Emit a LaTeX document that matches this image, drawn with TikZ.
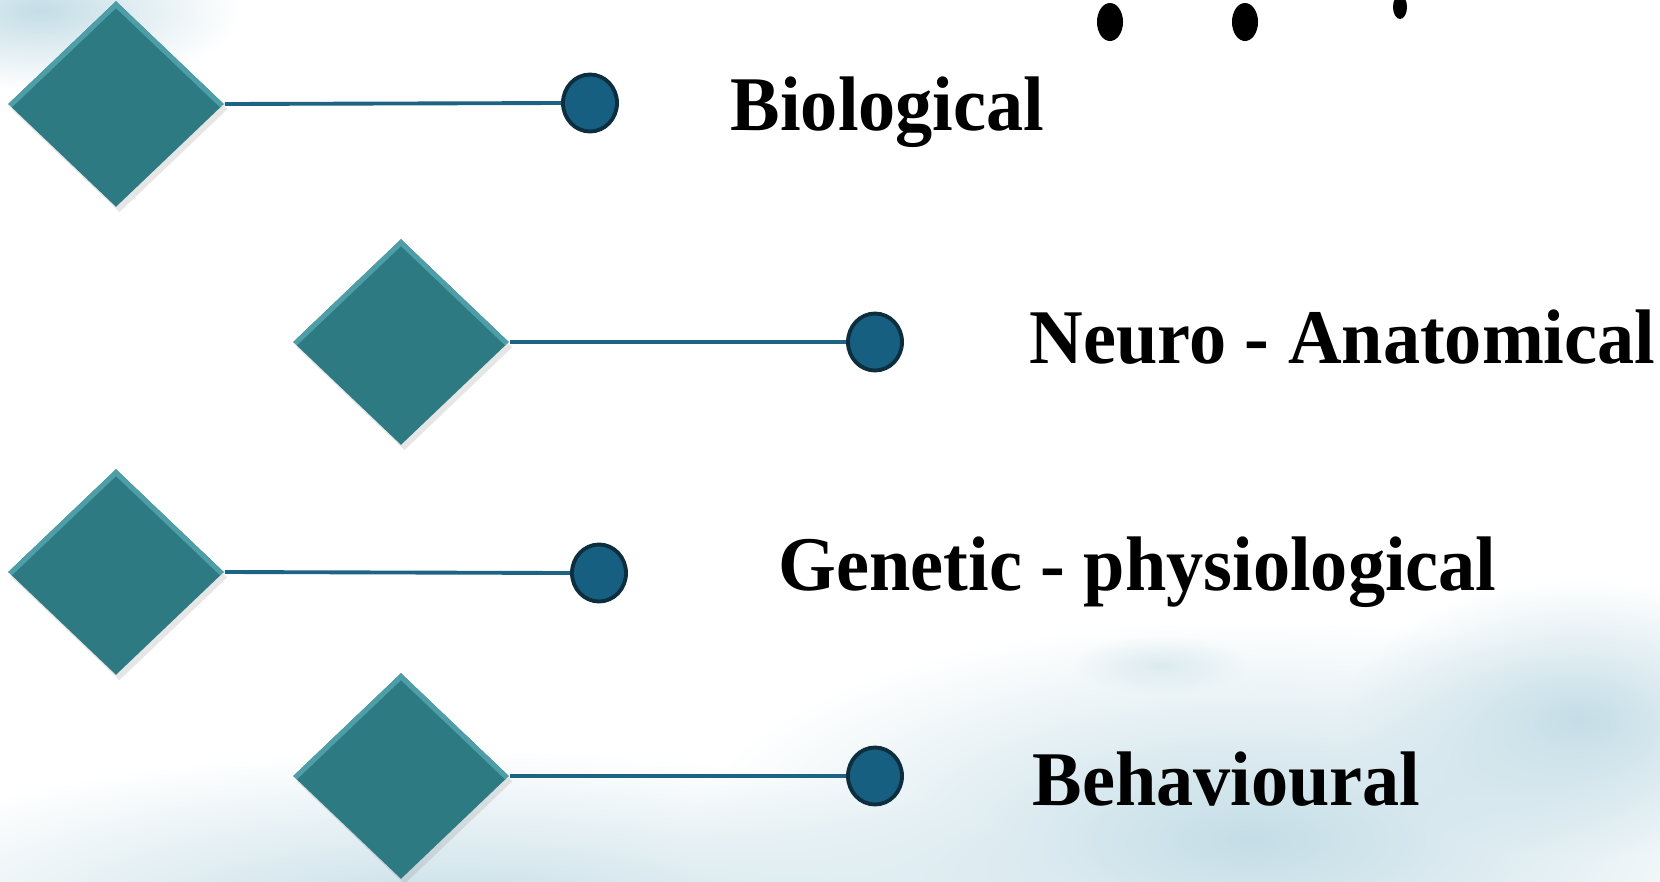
\documentclass[tikz,border=0pt]{standalone}
\usepackage{fontspec}
\newfontfamily\rowfont[FakeStretch=0.96]{Liberation Serif}
\usetikzlibrary{shapes.geometric, shadows, fadings}

\definecolor{gemteal}{HTML}{2E7A83}
\definecolor{gemlight}{HTML}{4E9EA8}
\definecolor{linkblue}{HTML}{1C6384}
\definecolor{dotfill}{HTML}{175F80}
\definecolor{dotedge}{HTML}{0C2E3F}
\definecolor{washblue}{HTML}{C4DDE6}

\tikzfading[name=softedge, inner color=transparent!0, outer color=transparent!100]

\begin{document}
\begin{tikzpicture}[
  x=0.01cm, y=-0.01cm,
  gem/.style={shape=diamond, fill=gemteal, minimum width=2.16cm, minimum height=2.06cm, inner sep=0pt,
    drop shadow={shadow xshift=1pt, shadow yshift=-1.5pt, opacity=0.2},
    path picture={\draw[gemlight, line width=0.1cm, line join=round]
      (path picture bounding box.west) -- (path picture bounding box.north) -- (path picture bounding box.east);}},
  dot/.style={ellipse, draw=dotedge, line width=1.1pt, fill=dotfill, minimum width=0.54cm, minimum height=0.57cm, inner sep=0pt},
  link/.style={draw=linkblue, line width=1.1pt},
  tag/.style={anchor=base west, inner sep=0pt, font=\rowfont\bfseries\fontsize{22}{26}\selectfont},
  wash/.style={fill=washblue, path fading=softedge}
]
\useasboundingbox (0,0) rectangle (1660,881);

% watercolour background
\fill[wash] (40,10) ellipse [x radius=2cm, y radius=0.8cm];
\fill[wash] (1250,840) ellipse [x radius=5.6cm, y radius=2.2cm];
\fill[wash] (450,920) ellipse [x radius=6.5cm, y radius=1.7cm];
\fill[wash] (1580,720) ellipse [x radius=2.4cm, y radius=1.4cm];
\fill[wash, opacity=0.5] (1160,665) ellipse [x radius=0.9cm, y radius=0.3cm];

% bottom of the cut-off heading
\fill (1110,22) ellipse [x radius=0.13cm, y radius=0.19cm];
\fill (1245,22) ellipse [x radius=0.13cm, y radius=0.19cm];
\fill (1400,7) ellipse [x radius=0.07cm, y radius=0.12cm];

\node[gem] (gem1) at (116,104) {};
\node[gem] (gem2) at (401,342) {};
\node[gem] (gem3) at (116,572) {};
\node[gem] (gem4) at (401,776) {};

\node[dot] (dot1) at (590,103) {};
\node[dot] (dot2) at (875,342) {};
\node[dot] (dot3) at (599,573) {};
\node[dot] (dot4) at (875,776) {};

\draw[link] (gem1.east) -- (dot1.west);
\draw[link] (gem2.east) -- (dot2.west);
\draw[link] (gem3.east) -- (dot3.west);
\draw[link] (gem4.east) -- (dot4.west);

\node[tag] (bio) at (730,130) {Biological};
\node[tag] (neuro) at (1029,363) {Neuro - Anatomical};
\node[tag] (gene) at (778,590) {Genetic - physiological};
\node[tag] (behav) at (1032,805) {Behavioural};
\end{tikzpicture}
\end{document}
